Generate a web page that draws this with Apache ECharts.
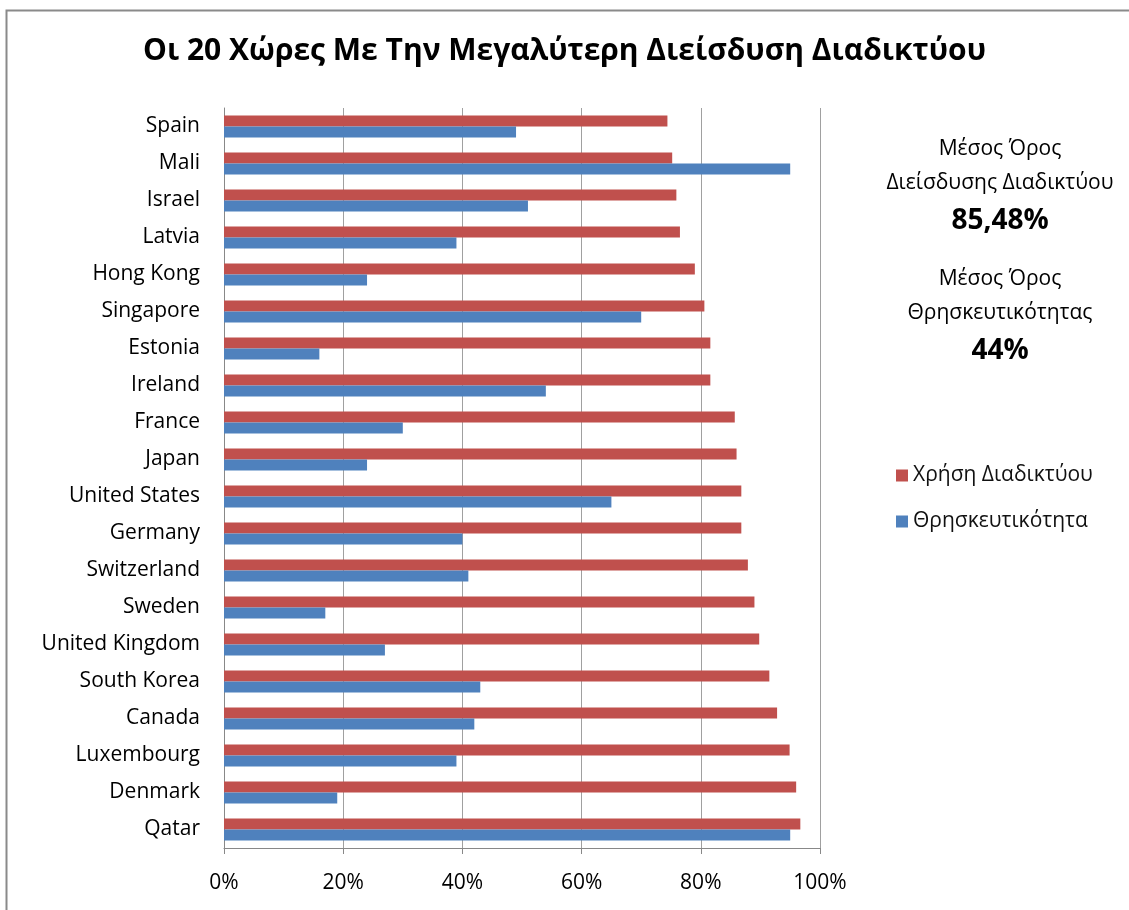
<!DOCTYPE html>
<html>
<head>
<meta charset="utf-8">
<style>
html,body{margin:0;padding:0;background:#fff;}
#chart{width:1129px;height:910px;}
</style>
<script src="https://cdn.jsdelivr.net/npm/echarts@6/dist/echarts.min.js"></script>
</head>
<body>
<div id="chart"></div>
<script>
// countries, bottom to top
var countries = ['Qatar', 'Denmark', 'Luxembourg', 'Canada', 'South Korea', 'United Kingdom', 'Sweden',
  'Switzerland', 'Germany', 'United States', 'Japan', 'France', 'Ireland', 'Estonia', 'Singapore',
  'Hong Kong', 'Latvia', 'Israel', 'Mali', 'Spain'];
var internetUse = [96.7, 96.0, 94.9, 92.8, 91.5, 89.8, 89.0, 87.9, 86.8, 86.8, 86.0, 85.7, 81.6, 81.6,
  80.6, 79.0, 76.5, 75.9, 75.2, 74.4];
var religiosity = [95, 19, 39, 42, 43, 27, 17, 41, 40, 65, 24, 30, 54, 16, 70, 24, 39, 51, 95, 49];
var xTicks = [0, 20, 40, 60, 80, 100];
var avgInternet = '85,48%';
var avgReligion = '44%';

var FONT = '"Open Sans", "Noto Sans", sans-serif';
var chart = echarts.init(document.getElementById('chart'));

var noteText = function(y, text, size, bold){
  return {
    type: 'text', x: 1000, y: y,
    style: {
      text: text, align: 'center', verticalAlign: 'middle',
      font: (bold ? 'bold ' : '') + size + 'px ' + FONT, fill: '#000'
    }
  };
};

chart.setOption({
  animation: false,
  backgroundColor: '#fff',
  title: {
    text: 'Οι 20 Χώρες Με Την Μεγαλύτερη Διείσδυση Διαδικτύου',
    left: 'center', top: 31,
    textStyle: { fontFamily: FONT, fontSize: 30, fontWeight: 'bold', color: '#000' }
  },
  legend: {
    orient: 'vertical', left: 891, top: 460, itemWidth: 12, itemHeight: 12, itemGap: 25,
    icon: 'rect',
    textStyle: { fontFamily: FONT, fontSize: 21, color: '#111' },
    data: ['Χρήση Διαδικτύου', 'Θρησκευτικότητα']
  },
  grid: { left: 224, right: 309, top: 108, bottom: 62, containLabel: false },
  xAxis: {
    type: 'value', min: xTicks[0], max: xTicks[xTicks.length - 1], interval: 20,
    axisLine: { show: true, lineStyle: { color: '#888' } },
    axisTick: { show: true, length: 6, lineStyle: { color: '#888' } },
    splitLine: { lineStyle: { color: '#a0a0a0', width: 1 } },
    axisLabel: { formatter: '{value}%', fontFamily: FONT, fontSize: 21, color: '#000', margin: 25 }
  },
  yAxis: {
    type: 'category', data: countries,
    axisLine: { lineStyle: { color: '#888' } },
    axisTick: { length: 6, lineStyle: { color: '#888' } },
    axisLabel: { fontFamily: FONT, fontSize: 21, color: '#000', margin: 24 }
  },
  series: [
    {
      name: 'Χρήση Διαδικτύου', type: 'bar', data: internetUse,
      itemStyle: { color: '#C0504D' }, barWidth: 11, barGap: '0%'
    },
    {
      name: 'Θρησκευτικότητα', type: 'bar', data: religiosity,
      itemStyle: { color: '#4F81BD' }, barWidth: 11, barGap: '0%'
    }
  ],
  graphic: [
    { type: 'rect', left: 4, top: 8, shape: { width: 1140, height: 920 }, style: { fill: 'none', stroke: '#8a8a8a', lineWidth: 2 } },
    noteText(149, 'Μέσος Όρος', 21, false),
    noteText(183, 'Διείσδυσης Διαδικτύου', 21, false),
    noteText(221, avgInternet, 28, true),
    noteText(279, 'Μέσος Όρος', 21, false),
    noteText(313, 'Θρησκευτικότητας', 21, false),
    noteText(351, avgReligion, 28, true)
  ]
});
</script>
</body>
</html>
